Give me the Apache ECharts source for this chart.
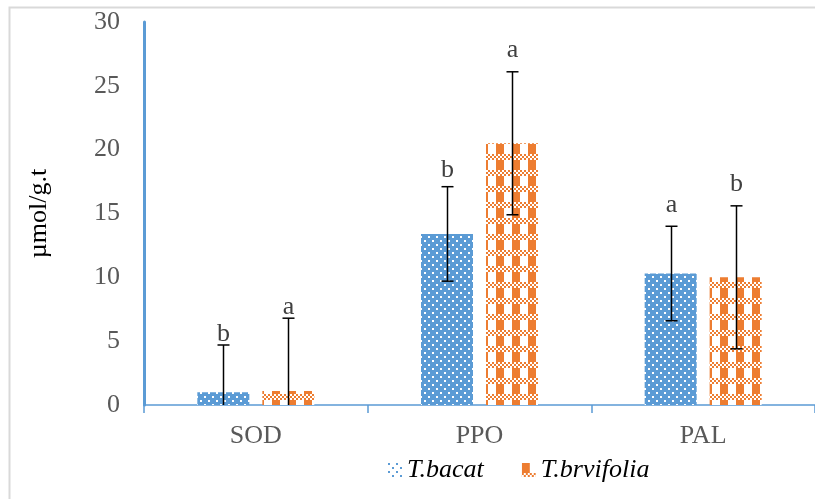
<!DOCTYPE html>
<html>
<head>
<meta charset="utf-8">
<script src="https://cdn.jsdelivr.net/npm/echarts@6/dist/echarts.min.js"></script>
<style>
html,body{margin:0;padding:0;background:#fff;}
#chart{width:815px;height:499px;}
</style>
</head>
<body>
<div id="chart"></div>
<script>
const categories = ['SOD', 'PPO', 'PAL'];
const seriesNames = ['T.bacat', 'T.brvifolia'];
const bacatMean = [1.0, 13.4, 10.3];
const bacatErr = [3.7, 3.7, 3.7];
const brviMean = [1.1, 20.5, 10.0];
const brviErr = [5.7, 5.6, 5.6];
const bacatLetters = ['b', 'b', 'a'];
const brviLetters = ['a', 'a', 'b'];
// value at which the bottom of each letter sits
const bacatLetterAt = [4.8, 17.6, 14.9];
const brviLetterAt = [6.9, 27.0, 16.5];
const yTicks = [0, 5, 10, 15, 20, 25, 30];

function tile(w, h, painter) {
  const c = document.createElement('canvas');
  c.width = w; c.height = h;
  const g = c.getContext('2d');
  const img = g.createImageData(w, h);
  for (let y = 0; y < h; y++) for (let x = 0; x < w; x++) {
    const col = painter(x, y);
    const k = (y * w + x) * 4;
    img.data[k] = col[0]; img.data[k + 1] = col[1]; img.data[k + 2] = col[2]; img.data[k + 3] = 255;
  }
  g.putImageData(img, 0, 0);
  return c;
}
const BLUE = [91, 155, 213], WHITE = [255, 255, 255], ORANGE = [237, 125, 49];
function makeBlue() {
  return tile(8, 8, (x, y) => {
    const bx = x >> 1, by = y >> 1;
    return ((bx === 0 && by === 0) || (bx === 2 && by === 2)) ? WHITE : BLUE;
  });
}
function makeBlueLegend() {
  return tile(8, 8, (x, y) => {
    const bx = x >> 1, by = y >> 1;
    return ((bx === 0 && by === 0) || (bx === 2 && by === 2)) ? BLUE : WHITE;
  });
}
function makeOrange() {
  return tile(16, 16, (x, y) => {
    if (y >= 10) return (((x >> 1) + (y >> 1)) % 2 === 0) ? WHITE : ORANGE;
    return x < 8 ? ORANGE : WHITE;
  });
}

const bluePat = { image: makeBlue(), repeat: 'repeat' };
const orangePat = { image: makeOrange(), repeat: 'repeat' };

const BAR_W = 52, BAR_GAP = 13;
const OFF = (BAR_W + BAR_GAP) / 2;

function errData(mean, err, letterAt) {
  return mean.map((m, i) => [i, m - err[i], m + err[i], letterAt[i]]);
}
function errRender(offset, letters) {
  return function (params, api) {
    const ci = api.value(0);
    const lo = Math.max(0, api.value(1));
    const hi = api.value(2);
    const x = Math.round(api.coord([ci, 0])[0] + offset) + 0.5;
    const yHi = api.coord([ci, hi])[1];
    const yLo = api.coord([ci, lo])[1];
    const yTxt = api.coord([ci, api.value(3)])[1];
    const st = { stroke: '#000', lineWidth: 1.5 };
    const children = [
      { type: 'line', shape: { x1: x, y1: yHi, x2: x, y2: yLo }, style: st },
      { type: 'line', shape: { x1: x - 6, y1: yHi, x2: x + 6, y2: yHi }, style: st },
      { type: 'text', style: { text: letters[params.dataIndex], x: x, y: yTxt + 3, align: 'center', verticalAlign: 'bottom', fill: '#404040', font: '26px "Liberation Serif"' } }
    ];
    if (lo > 0) children.push({ type: 'line', shape: { x1: x - 6, y1: yLo, x2: x + 6, y2: yLo }, style: st });
    return { type: 'group', children: children };
  };
}

const chart = echarts.init(document.getElementById('chart'), null, { renderer: 'canvas' });
chart.setOption({
  animation: false,
  backgroundColor: '#fff',
  graphic: [{
    type: 'rect', shape: { x: 9.5, y: 7.5, width: 830, height: 520 },
    style: { fill: 'none', stroke: '#D9D9D9', lineWidth: 2 }, silent: true, z: -1
  }],
  grid: { left: 144, top: 22, width: 681, height: 383, containLabel: false },
  legend: {
    left: 383, top: 452,
    itemWidth: 14, itemHeight: 14, itemGap: 38,
    textStyle: { fontFamily: 'Liberation Serif', fontStyle: 'italic', fontSize: 26, color: '#000' },
    data: [
      { name: seriesNames[0], icon: 'rect', itemStyle: { color: { image: makeBlueLegend(), repeat: 'repeat' } } },
      { name: seriesNames[1], icon: 'rect' }
    ]
  },
  xAxis: {
    type: 'category', data: categories,
    axisLine: { lineStyle: { color: '#5B9BD5', width: 1.5 } },
    axisTick: { show: true, length: 8, lineStyle: { color: '#5B9BD5', width: 1.5 } },
    axisLabel: { margin: 18, fontFamily: 'Liberation Serif', fontSize: 26, color: '#595959' }
  },
  yAxis: {
    type: 'value', min: yTicks[0], max: yTicks[yTicks.length - 1], interval: 5,
    name: 'µmol/g.t', nameLocation: 'middle', nameGap: 92, nameRotate: 90,
    nameTextStyle: { fontFamily: 'Liberation Serif', fontSize: 26, color: '#000' },
    axisLine: { show: true, lineStyle: { color: '#5B9BD5', width: 3 } },
    axisTick: { show: false },
    splitLine: { show: false },
    axisLabel: { margin: 24, fontFamily: 'Liberation Serif', fontSize: 26, color: '#595959' }
  },
  series: [
    { name: seriesNames[0], type: 'bar', data: bacatMean, barWidth: BAR_W, barGap: (BAR_GAP / BAR_W * 100) + '%', itemStyle: { color: bluePat } },
    { name: seriesNames[1], type: 'bar', data: brviMean, barWidth: BAR_W, itemStyle: { color: orangePat } },
    { type: 'custom', data: errData(bacatMean, bacatErr, bacatLetterAt), renderItem: errRender(-OFF, bacatLetters), z: 10, encode: { x: 0, y: [1, 2] } },
    { type: 'custom', data: errData(brviMean, brviErr, brviLetterAt), renderItem: errRender(OFF, brviLetters), z: 10, encode: { x: 0, y: [1, 2] } }
  ]
});
</script>
</body>
</html>
